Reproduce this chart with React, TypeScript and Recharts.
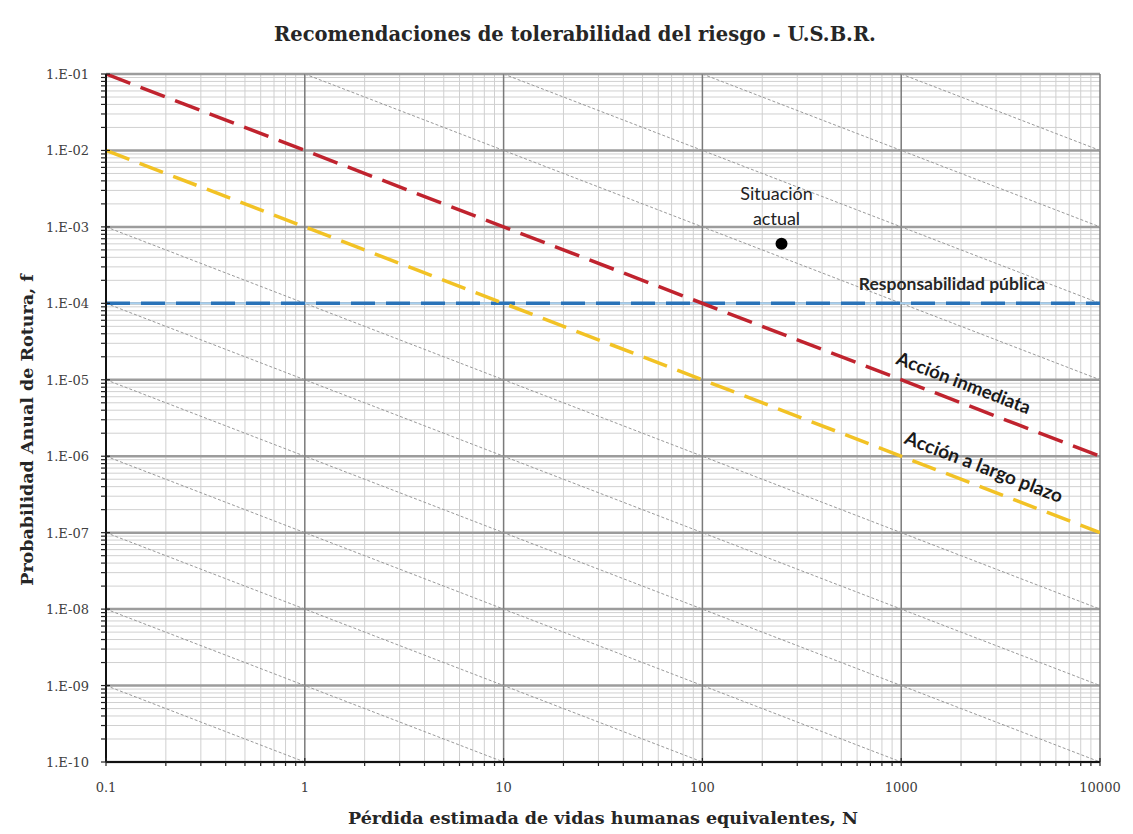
import React from 'react';
import { ComposedChart, Line, Scatter, XAxis, YAxis, ReferenceLine } from 'recharts';

// Axis ticks (log-log)
const xMajorTicks = [0.1, 1, 10, 100, 1000, 10000];
const xTickLabels = ['0.1', '1', '10', '100', '1000', '10000'];
const yMajorTicks = [1e-10, 1e-9, 1e-8, 1e-7, 1e-6, 1e-5, 1e-4, 1e-3, 1e-2, 1e-1];
const yTickLabels = ['1.E-10', '1.E-09', '1.E-08', '1.E-07', '1.E-06', '1.E-05', '1.E-04', '1.E-03', '1.E-02', '1.E-01'];
const minorSteps = [2, 3, 4, 5, 6, 7, 8, 9];

// Criteria lines
const accionInmediata = [
  { N: 0.1, f: 1e-1 },
  { N: 10000, f: 1e-6 },
];
const accionLargoPlazo = [
  { N: 0.1, f: 1e-2 },
  { N: 10000, f: 1e-7 },
];
const responsabilidadPublica = [
  { N: 0.1, f: 1e-4 },
  { N: 10000, f: 1e-4 },
];
const situacionActual = [{ N: 250, f: 6e-4 }];

// constant-risk lines f*N = C
const isoRiskLevels = [100, 10, 1, 0.1, 1e-4, 1e-5, 1e-6, 1e-7, 1e-8, 1e-9, 1e-10];

// label anchors
const labelResponsabilidad = [{ N: 1800, f: 1e-4 }];
const labelInmediata = [{ N: 1900, f: 5.26e-6 }];
const labelLargoPlazo = [{ N: 2400, f: 4.17e-7 }];

const X_MIN = 0.1, X_MAX = 10000, Y_MIN = 1e-10, Y_MAX = 1e-1;

const minorOf = (majors: number[]) =>
  majors.slice(0, -1).flatMap((d) => minorSteps.map((m) => m * d));

const xMinor = minorOf(xMajorTicks);
const yMinor = minorOf(yMajorTicks);

const isoLines = isoRiskLevels.map((C) => {
  const n1 = Math.max(X_MIN, C / Y_MAX);
  const n2 = Math.min(X_MAX, C / Y_MIN);
  return [
    { N: n1, f: C / n1 },
    { N: n2, f: C / n2 },
  ];
});

const majorIndex = (arr: number[], v: number) =>
  arr.findIndex((m) => Math.abs(Math.log10(m) - Math.log10(v)) < 1e-6);

const serif = '"DejaVu Serif", "Liberation Serif", serif';
const sans = 'Lato, "Open Sans", sans-serif';

const XTick = (props: any) => {
  const { x, y, payload } = props;
  const idx = majorIndex(xMajorTicks, payload.value);
  return (
    <g>
      <line x1={x} x2={x} y1={idx >= 0 ? y - 4 : y} y2={y + 4} stroke="#222" strokeWidth={1.2} />
      {idx >= 0 && (
        <text x={x} y={y + 30} textAnchor="middle" fontFamily={serif} fontSize={13} fill="#404040">
          {xTickLabels[idx]}
        </text>
      )}
    </g>
  );
};

const YTick = (props: any) => {
  const { x, y, payload } = props;
  const idx = majorIndex(yMajorTicks, payload.value);
  return (
    <g>
      <line x1={x - 5} x2={idx >= 0 ? x + 4 : x} y1={y} y2={y} stroke="#222" strokeWidth={1.2} />
      {idx >= 0 && (
        <text x={x - 17} y={y + 5} textAnchor="end" fontFamily={serif} fontSize={13} fill="#404040">
          {yTickLabels[idx]}
        </text>
      )}
    </g>
  );
};

const YTitle = (props: any) => {
  const { viewBox } = props;
  const cx = 27;
  const cy = viewBox.y + viewBox.height / 2 + 12;
  return (
    <text
      transform={`translate(${cx},${cy}) rotate(-90)`}
      textAnchor="middle"
      dominantBaseline="central"
      fontFamily={serif}
      fontWeight={700}
      fontSize={17.5}
      fill="#262626"
    >
      Probabilidad Anual de Rotura, f
    </text>
  );
};

const SituacionShape = (props: any) => {
  const { cx, cy } = props;
  return (
    <g>
      <circle cx={cx} cy={cy} r={6} fill="#000" />
      <text x={cx - 5} y={cy - 44} textAnchor="middle" fontFamily={sans} fontSize={18} fill="#222">
        Situación
      </text>
      <text x={cx - 5} y={cy - 19} textAnchor="middle" fontFamily={sans} fontSize={18} fill="#222">
        actual
      </text>
    </g>
  );
};

const flatLabel = (text: string) => (props: any) => (
  <text x={props.cx} y={props.cy - 13} textAnchor="middle" fontFamily={sans} fontSize={17.5} fontWeight={700} fill="#262626">
    {text}
  </text>
);

const slopedLabel = (text: string, size: number) => (props: any) => (
  <text
    transform={`translate(${props.cx},${props.cy}) rotate(21)`}
    y={-13}
    textAnchor="middle"
    fontFamily={sans}
    fontSize={size}
    fontWeight={700}
    fill="#1a1a1a"
  >
    {text}
  </text>
);

const App: React.FC = () => {
  return (
    <div style={{ position: 'absolute', left: 0, top: 0, width: 1133, height: 834, background: '#fff' }}>
      <div
        style={{
          position: 'absolute',
          left: 575,
          top: 23,
          transform: 'translateX(-50%)',
          whiteSpace: 'nowrap',
          fontFamily: serif,
          fontWeight: 700,
          fontSize: 19.5,
          color: '#262626',
        }}
      >
        Recomendaciones de tolerabilidad del riesgo - U.S.B.R.
      </div>
      <ComposedChart width={1133} height={834} margin={{ top: 74, right: 33, bottom: 0, left: 0 }}>
        <XAxis
          type="number"
          dataKey="N"
          scale="log"
          domain={[X_MIN, X_MAX]}
          allowDataOverflow
          ticks={[...xMajorTicks, ...xMinor].sort((a, b) => a - b)}
          interval={0}
          tick={<XTick />}
          tickLine={false}
          tickSize={0}
          tickMargin={0}
          height={72}
          axisLine={{ stroke: '#111', strokeWidth: 2 }}
          label={{
            value: 'Pérdida estimada de vidas humanas equivalentes, N',
            position: 'insideBottom',
            offset: 10,
            style: { fontFamily: serif, fontWeight: 700, fontSize: 17.5, fill: '#262626' },
          }}
        />
        <YAxis
          type="number"
          dataKey="f"
          scale="log"
          domain={[Y_MIN, Y_MAX]}
          allowDataOverflow
          ticks={[...yMajorTicks, ...yMinor].sort((a, b) => a - b)}
          interval={0}
          tick={<YTick />}
          tickLine={false}
          tickSize={0}
          tickMargin={0}
          width={106}
          axisLine={{ stroke: '#111', strokeWidth: 2 }}
          label={{ content: <YTitle /> }}
        />
        {xMinor.map((v) => (
          <ReferenceLine key={`xm-${v}`} x={v} stroke="#d0d0d0" strokeWidth={1} />
        ))}
        {yMinor.map((v) => (
          <ReferenceLine key={`ym-${v}`} y={v} stroke="#d0d0d0" strokeWidth={1} />
        ))}
        {yMajorTicks.map((v) => (
          <ReferenceLine key={`yM-${v}`} y={v} stroke="#9c9c9c" strokeWidth={2.5} />
        ))}
        {xMajorTicks.map((v) => (
          <ReferenceLine key={`xM-${v}`} x={v} stroke="#7a7a7a" strokeWidth={1.5} />
        ))}
        {isoLines.map((d, i) => (
          <Line
            key={`iso-${i}`}
            data={d}
            dataKey="f"
            stroke="#9a9a9a"
            strokeWidth={1}
            strokeDasharray="3 2"
            dot={false}
            isAnimationActive={false}
          />
        ))}
        <Line
          data={responsabilidadPublica}
          dataKey="f"
          stroke="#a9d1f0"
          strokeWidth={2}
          dot={false}
          isAnimationActive={false}
        />
        <Line
          data={responsabilidadPublica}
          dataKey="f"
          stroke="#2a73b8"
          strokeWidth={3.5}
          strokeDasharray="24 11"
          dot={false}
          isAnimationActive={false}
        />
        <Line
          data={accionLargoPlazo}
          dataKey="f"
          stroke="#f2c225"
          strokeWidth={3.5}
          strokeDasharray="25 11"
          dot={false}
          isAnimationActive={false}
        />
        <Line
          data={accionInmediata}
          dataKey="f"
          stroke="#c0232e"
          strokeWidth={3.5}
          strokeDasharray="26 11"
          dot={false}
          isAnimationActive={false}
        />
        <Scatter data={situacionActual} dataKey="f" shape={<SituacionShape />} isAnimationActive={false} />
        <Scatter data={labelResponsabilidad} dataKey="f" shape={flatLabel('Responsabilidad pública')} isAnimationActive={false} />
        <Scatter data={labelInmediata} dataKey="f" shape={slopedLabel('Acción inmediata', 18.5)} isAnimationActive={false} />
        <Scatter data={labelLargoPlazo} dataKey="f" shape={slopedLabel('Acción a largo plazo', 19)} isAnimationActive={false} />
      </ComposedChart>
    </div>
  );
};

export default App;
